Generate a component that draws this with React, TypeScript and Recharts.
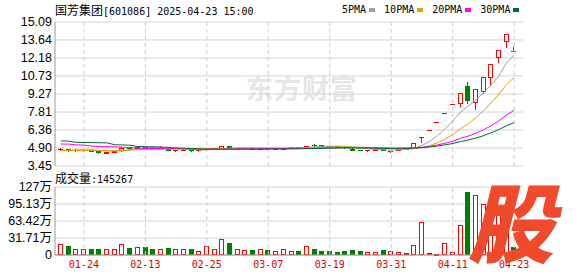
import { Bar, CartesianGrid, ComposedChart, Line, ReferenceLine, XAxis, YAxis } from "recharts";

const RED = "#ff0000";
const GREEN = "#008000";
const MONO = "'DejaVu Sans Mono', 'Liberation Mono', monospace";
const CJK = "'Noto Sans CJK SC', sans-serif";
const SANS = "'Liberation Sans', 'Noto Sans CJK SC', sans-serif";

// trading days 2025-01-21 .. 2025-04-23
const dates = [
  "01-21", "01-22", "01-23", "01-24", "01-27", "02-05", "02-06", "02-07", "02-10", "02-11",
  "02-12", "02-13", "02-14", "02-17", "02-18", "02-19", "02-20", "02-21", "02-24", "02-25",
  "02-26", "02-27", "02-28", "03-03", "03-04", "03-05", "03-06", "03-07", "03-10", "03-11",
  "03-12", "03-13", "03-14", "03-17", "03-18", "03-19", "03-20", "03-21", "03-24", "03-25",
  "03-26", "03-27", "03-28", "03-31", "04-01", "04-02", "04-03", "04-07", "04-08", "04-09",
  "04-10", "04-11", "04-14", "04-15", "04-16", "04-17", "04-18", "04-21", "04-22", "04-23",
];

const open = [
  4.8, 4.82, 4.76, 4.74, 4.74, 4.64, 4.54, 4.6, 4.72, 4.95,
  4.9, 4.98, 4.95, 4.93, 4.86, 4.72, 4.74, 4.77, 4.71, 4.8,
  4.85, 4.92, 5.06, 4.88, 4.87, 4.9, 4.85, 4.89, 4.85, 4.86,
  4.9, 4.96, 4.92, 5.14, 5.12, 5.08, 5.04, 5.0, 4.84, 4.77,
  4.72, 4.76, 4.8, 4.65, 4.78, 4.84, 4.9, 5.81, 6.4, 7.02,
  7.72, 8.5, 8.56, 9.92, 8.64, 9.54, 10.62, 12.24, 13.58, 12.76,
];
const close = [
  4.86, 4.77, 4.78, 4.76, 4.66, 4.56, 4.58, 4.68, 4.93, 4.9,
  4.96, 4.94, 4.92, 5.0, 4.74, 4.74, 4.76, 4.73, 4.73, 4.86,
  4.9, 5.05, 4.93, 4.9, 4.89, 4.86, 4.88, 4.86, 4.87, 4.89,
  4.96, 4.92, 5.05, 5.12, 5.08, 5.06, 5.0, 4.95, 4.78, 4.74,
  4.75, 4.79, 4.76, 4.67, 4.84, 4.9, 5.3, 5.81, 6.4, 7.02,
  7.72, 8.5, 9.33, 8.77, 9.65, 10.62, 11.69, 12.86, 14.15, 12.74,
];
const high = [
  4.9, 4.83, 4.82, 4.8, 4.76, 4.66, 4.6, 4.7, 4.96, 4.98,
  4.99, 5.0, 4.97, 5.04, 4.88, 4.77, 4.79, 4.78, 4.75, 4.94,
  4.94, 5.1, 5.08, 4.93, 4.91, 4.91, 4.91, 4.9, 4.89, 4.91,
  4.98, 4.97, 5.07, 5.25, 5.14, 5.1, 5.06, 5.01, 4.88, 4.78,
  4.77, 4.81, 4.81, 4.7, 4.86, 4.92, 5.32, 5.81, 6.4, 7.02,
  7.72, 8.5, 9.36, 10.28, 9.65, 10.62, 11.69, 12.86, 14.15, 13.04,
];
const low = [
  4.74, 4.7, 4.7, 4.7, 4.64, 4.53, 4.5, 4.58, 4.7, 4.86,
  4.87, 4.9, 4.89, 4.91, 4.72, 4.69, 4.72, 4.7, 4.68, 4.78,
  4.83, 4.9, 4.91, 4.85, 4.85, 4.84, 4.84, 4.84, 4.84, 4.85,
  4.88, 4.9, 4.9, 5.05, 5.05, 5.03, 4.98, 4.93, 4.73, 4.72,
  4.7, 4.74, 4.74, 4.62, 4.76, 4.82, 4.88, 5.42, 6.4, 7.02,
  7.72, 8.5, 8.29, 8.55, 8.05, 9.38, 10.0, 11.88, 13.09, 12.74,
];

// volume, in 万手
const volume = [
  21.0, 16.3, 12.0, 12.0, 10.3, 10.3, 12.0, 12.0, 21.0, 12.7,
  15.7, 14.5, 10.3, 12.0, 12.7, 10.3, 10.3, 10.9, 6.6, 17.5,
  12.0, 29.6, 21.7, 12.0, 9.0, 9.0, 10.3, 9.0, 6.6, 10.3,
  8.0, 8.0, 17.0, 10.5, 8.0, 6.8, 5.5, 6.8, 10.0, 6.8,
  6.0, 6.0, 10.0, 7.0, 5.5, 4.3, 18.5, 61.7, 4.3, 2.5,
  22.0, 6.0, 56.0, 117.0, 112.0, 95.0, 100.0, 88.0, 75.0, 14.5267,
];

const ma5 = [
  4.72, 4.73, 4.75, 4.76, 4.77, 4.71, 4.67, 4.65, 4.68, 4.73,
  4.81, 4.88, 4.93, 4.94, 4.91, 4.87, 4.83, 4.79, 4.74, 4.76,
  4.8, 4.85, 4.89, 4.93, 4.93, 4.93, 4.89, 4.88, 4.87, 4.87,
  4.89, 4.9, 4.94, 4.99, 5.03, 5.05, 5.06, 5.04, 4.97, 4.91,
  4.84, 4.8, 4.76, 4.74, 4.76, 4.79, 4.89, 5.1, 5.45, 5.89,
  6.45, 7.09, 7.79, 8.27, 8.79, 9.37, 10.01, 10.72, 11.79, 12.41,
];
const ma10 = [
  4.71, 4.71, 4.7, 4.7, 4.7, 4.69, 4.7, 4.71, 4.73, 4.75,
  4.76, 4.78, 4.79, 4.81, 4.82, 4.84, 4.86, 4.86, 4.84, 4.84,
  4.83, 4.84, 4.84, 4.83, 4.85, 4.86, 4.87, 4.89, 4.9, 4.9,
  4.91, 4.9, 4.91, 4.93, 4.95, 4.97, 4.98, 4.99, 4.98, 4.97,
  4.95, 4.93, 4.9, 4.86, 4.83, 4.82, 4.85, 4.93, 5.1, 5.32,
  5.62, 5.99, 6.45, 6.86, 7.34, 7.91, 8.55, 9.26, 10.03, 10.6,
];
const ma20 = [
  5.23, 5.22, 5.16, 5.14, 5.06, 5.02, 5.01, 5.0, 4.97, 4.93,
  4.89, 4.87, 4.86, 4.85, 4.85, 4.84, 4.83, 4.82, 4.81, 4.8,
  4.8, 4.81, 4.82, 4.82, 4.84, 4.85, 4.87, 4.88, 4.87, 4.87,
  4.87, 4.87, 4.88, 4.88, 4.9, 4.92, 4.93, 4.94, 4.94, 4.94,
  4.93, 4.92, 4.91, 4.9, 4.89, 4.9, 4.92, 4.96, 5.04, 5.15,
  5.29, 5.46, 5.68, 5.86, 6.09, 6.37, 6.7, 7.1, 7.57, 7.96,
];
const ma30 = [
  5.48, 5.46, 5.36, 5.35, 5.34, 5.33, 5.32, 5.17, 5.15, 5.13,
  5.03, 5.01, 5.0, 4.98, 4.95, 4.91, 4.89, 4.86, 4.84, 4.82,
  4.81, 4.81, 4.81, 4.81, 4.81, 4.81, 4.82, 4.82, 4.82, 4.83,
  4.83, 4.84, 4.85, 4.86, 4.87, 4.89, 4.9, 4.91, 4.91, 4.9,
  4.9, 4.89, 4.88, 4.87, 4.88, 4.88, 4.9, 4.94, 4.99, 5.06,
  5.16, 5.27, 5.42, 5.55, 5.71, 5.9, 6.13, 6.39, 6.7, 6.96,
];

const priceTicks = [3.45, 4.9, 6.36, 7.81, 9.27, 10.73, 12.18, 13.64, 15.09];
const volTicks = [0, 31.71, 63.42, 95.13, 126.84];
const tickDates = ["01-24", "02-13", "02-25", "03-07", "03-19", "03-31", "04-11", "04-23"];

const maSeries = [
  { key: "ma5", name: "5PMA", color: "#a0a0a0" },
  { key: "ma10", name: "10PMA", color: "#f0a000" },
  { key: "ma20", name: "20PMA", color: "#ff00ff" },
  { key: "ma30", name: "30PMA", color: "#006a2e" },
];

const rows = dates.map((date, i) => ({
  date,
  open: open[i],
  close: close[i],
  high: high[i],
  low: low[i],
  range: [low[i], high[i]],
  vol: volume[i],
  ma5: ma5[i],
  ma10: ma10[i],
  ma20: ma20[i],
  ma30: ma30[i],
}));

const Candle = (props: any) => {
  const { x, y, width, height, payload } = props;
  if (x == null || y == null) return null;
  const { open: o, close: c, high: h, low: l } = payload;
  const up = c >= o;
  const color = up ? RED : GREEN;
  const mid = Math.floor(x + width / 2);
  const cx = mid + 0.5;
  const top = height >= 0 ? y : y + height;
  const span = Math.abs(height);
  if (h === l || span === 0) {
    const yy = Math.round(top) + 0.5;
    return <line x1={mid - 2} x2={mid + 3} y1={yy} y2={yy} stroke={color} />;
  }
  const k = span / (h - l);
  const bTop = Math.round(top + (h - Math.max(o, c)) * k);
  const bBot = Math.round(top + (h - Math.min(o, c)) * k);
  const yHigh = Math.round(top);
  const yLow = Math.round(top + span);
  return (
    <g>
      {bTop > yHigh && <line x1={cx} x2={cx} y1={yHigh} y2={bTop} stroke={color} />}
      {yLow > bBot && <line x1={cx} x2={cx} y1={bBot} y2={yLow + 1} stroke={color} />}
      {bBot - bTop < 1 ? (
        <line x1={mid - 2} x2={mid + 3} y1={bTop + 0.5} y2={bTop + 0.5} stroke={color} />
      ) : up ? (
        <rect x={mid - 1.5} y={bTop + 0.5} width={4} height={bBot - bTop} fill="#fff" stroke={color} />
      ) : (
        <rect x={mid - 2} y={bTop} width={5} height={bBot - bTop + 1} fill={color} />
      )}
    </g>
  );
};

const VolBar = (props: any) => {
  const { x, y, width, height, payload } = props;
  if (x == null || y == null || !height) return null;
  const mid = Math.floor(x + width / 2);
  const yy = Math.round(y);
  const h = Math.round(y + height) - yy;
  if (payload.close >= payload.open) {
    return <rect x={mid - 1.5} y={yy + 0.5} width={4} height={Math.max(h - 1, 1)} fill="#fff" stroke={RED} />;
  }
  return <rect x={mid - 2} y={yy} width={5} height={h} fill={GREEN} />;
};

const fmtVol = (v: number) => (v === 0 ? "0" : v >= 100 ? `${Math.round(v)}万` : `${v.toFixed(2)}万`);

const axisTick = { fill: "#000", fontSize: 12.5, fontFamily: SANS };
const frame = { stroke: "#999" };
const pad = { left: 2, right: 5 };

export default function App() {
  return (
    <div
      style={{
        position: "absolute",
        left: 0,
        top: 0,
        width: 578,
        height: 276,
        overflow: "hidden",
        background: "#fff",
      }}
    >
      {/* watermark */}
      <div
        style={{
          position: "absolute",
          left: 246,
          top: 68,
          fontFamily: CJK,
          fontSize: 27,
          fontWeight: 700,
          color: "#e6e6e6",
          letterSpacing: 1,
          whiteSpace: "nowrap",
        }}
      >
        东方财富
      </div>

      <div style={{ position: "absolute", left: 0, top: 0 }}>
        <ComposedChart width={578} height={176} data={rows} margin={{ top: 22, right: 55, bottom: 10, left: 0 }}>
          <CartesianGrid vertical={false} stroke="#d4d4d4" />
          {tickDates.map((d) => (
            <ReferenceLine key={d} x={d} stroke="#cccccc" strokeDasharray="4 3" />
          ))}
          <XAxis dataKey="date" height={0} tick={false} tickLine={false} axisLine={frame} padding={pad} />
          <XAxis xAxisId="top" orientation="top" dataKey="date" height={0} tick={false} tickLine={false} axisLine={frame} padding={pad} />
          <YAxis
            domain={[3.45, 15.09]}
            ticks={priceTicks}
            interval={0}
            width={55}
            tickSize={0}
            tickMargin={3}
            tick={axisTick}
            axisLine={frame}
            tickFormatter={(v: number) => v.toFixed(2)}
          />
          <YAxis yAxisId="r" orientation="right" width={0} tick={false} tickLine={false} axisLine={frame} domain={[0, 1]} />
          <Bar dataKey="range" barSize={5} shape={Candle} isAnimationActive={false} />
          {maSeries.map((m) => (
            <Line
              key={m.key}
              type="linear"
              dataKey={m.key}
              stroke={m.color}
              strokeWidth={1}
              dot={false}
              activeDot={false}
              isAnimationActive={false}
            />
          ))}
        </ComposedChart>
      </div>

      <div style={{ position: "absolute", left: 0, top: 170 }}>
        <ComposedChart width={578} height={106} data={rows} margin={{ top: 17, right: 55, bottom: 0, left: 0 }}>
          <CartesianGrid vertical={false} stroke="#d4d4d4" />
          {tickDates.map((d) => (
            <ReferenceLine key={d} x={d} stroke="#cccccc" strokeDasharray="4 3" />
          ))}
          <XAxis
            dataKey="date"
            ticks={tickDates}
            interval={0}
            height={21}
            tickSize={0}
            tickMargin={6}
            tick={{ fill: "#e00000", fontSize: 10, fontFamily: MONO }}
            axisLine={frame}
            padding={pad}
          />
          <XAxis xAxisId="top" orientation="top" dataKey="date" height={0} tick={false} tickLine={false} axisLine={frame} padding={pad} />
          <YAxis
            domain={[0, 126.84]}
            ticks={volTicks}
            interval={0}
            width={55}
            tickSize={0}
            tickMargin={3}
            tick={axisTick}
            axisLine={frame}
            tickFormatter={fmtVol}
          />
          <YAxis yAxisId="r" orientation="right" width={0} tick={false} tickLine={false} axisLine={frame} domain={[0, 1]} />
          <Bar dataKey="vol" barSize={5} shape={VolBar} isAnimationActive={false} />
        </ComposedChart>
      </div>

      <div
        style={{
          position: "absolute",
          left: 55,
          top: 2,
          zIndex: 2,
          fontSize: 12,
          lineHeight: "16px",
          whiteSpace: "nowrap",
          color: "#000",
        }}
      >
        <span style={{ fontFamily: CJK }}>国芳集团</span>
        <span style={{ fontFamily: MONO, fontSize: 10 }}>[601086] 2025-04-23 15:00</span>
      </div>

      <div
        style={{
          position: "absolute",
          left: 342,
          top: 2,
          zIndex: 2,
          lineHeight: "16px",
          whiteSpace: "nowrap",
          fontFamily: MONO,
          fontSize: 10,
          color: "#000",
        }}
      >
        {maSeries.map((m) => (
          <span key={m.key} style={{ marginRight: 9 }}>
            {m.name}
            <span
              style={{
                display: "inline-block",
                width: 6,
                height: 4,
                marginLeft: 3,
                background: m.color,
                verticalAlign: "middle",
              }}
            />
          </span>
        ))}
      </div>

      <div
        style={{
          position: "absolute",
          left: 55,
          top: 170,
          zIndex: 2,
          fontSize: 12,
          lineHeight: "16px",
          whiteSpace: "nowrap",
          color: "#000",
        }}
      >
        <span style={{ fontFamily: CJK }}>成交量</span>
        <span style={{ fontFamily: MONO, fontSize: 10 }}>:145267</span>
      </div>

      <div
        style={{
          position: "absolute",
          left: 468,
          top: 176,
          zIndex: 3,
          fontFamily: CJK,
          fontSize: 86,
          lineHeight: 1,
          fontWeight: 900,
          fontStyle: "italic",
          color: "#ee4a2b",
          whiteSpace: "nowrap",
        }}
      >
        股
      </div>
    </div>
  );
}
